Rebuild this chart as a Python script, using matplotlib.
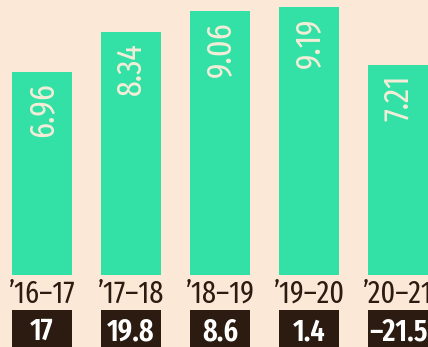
import numpy as np
import matplotlib
matplotlib.use('Agg')
import matplotlib.pyplot as plt

# --- Datos ---------------------------------------------------------------------
years = ["\u201916\u201317", "\u201917\u201318", "\u201918\u201319", "\u201919\u201320", "\u201920\u201321"]
values = [6.96, 8.34, 9.06, 9.19, 7.21]
growth = ["17", "19.8", "8.6", "1.4", "\u201321.5"]

# --- Estilo --------------------------------------------------------------------
bg = '#FBE8D6'
bar_col = '#33E1A7'
dark = '#2B1B10'
light = '#F5EDD8'
plt.rcParams['font.family'] = ['Fira Sans Extra Condensed', 'Fira Sans Condensed', 'DejaVu Sans']

fig = plt.figure(figsize=(4.28, 3.47), dpi=100)
fig.patch.set_facecolor(bg)
ax = fig.add_axes([0, 0, 1, 1])
ax.set_facecolor(bg)

x = np.arange(len(values))
w = 0.674
ax.bar(x, values, width=w, color=bar_col)
ax.bar(x, 1.4, bottom=-2.6, width=w, color=dark)   # cajas oscuras inferiores

for i in range(len(values)):
    ax.annotate(f'{values[i]:.2f}', xy=(x[i], values[i]), xytext=(0, -10), textcoords='offset pixels',
                rotation=90, ha='center', va='top', color=light, fontsize=25)
    ax.annotate(years[i], xy=(x[i], 0), xytext=(0, -19), textcoords='offset pixels',
                ha='center', va='center', color=dark, fontsize=22)
    ax.annotate(growth[i], xy=(x[i], 0), xytext=(0, -57), textcoords='offset pixels',
                ha='center', va='center', color='white', fontsize=22, fontweight='semibold')

ax.set_xlim(-0.472, 4.337)
ax.set_ylim(-2.47, 9.434)
ax.axis('off')

fig.savefig('out.png', dpi=100, facecolor=bg)
